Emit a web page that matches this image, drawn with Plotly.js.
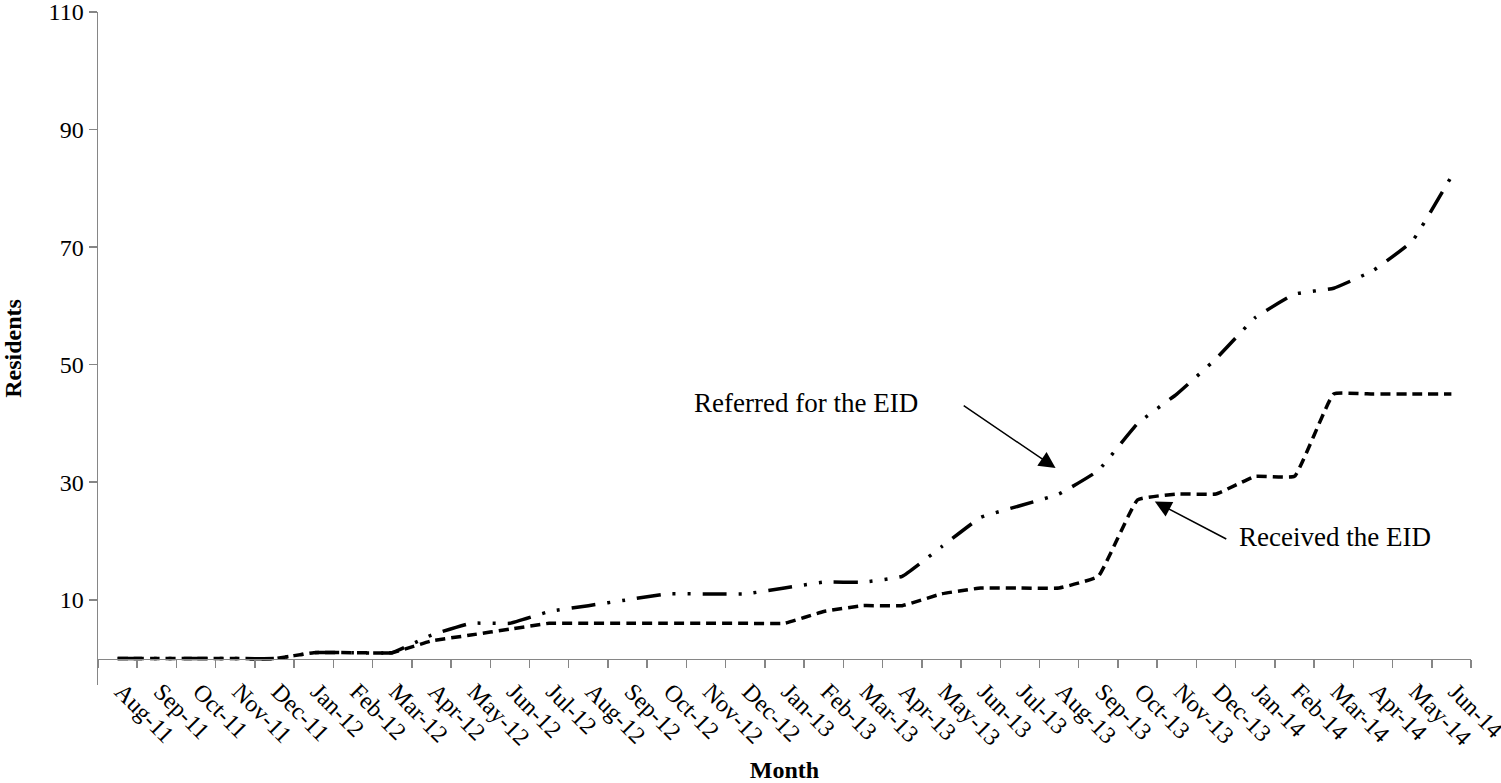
<!DOCTYPE html>
<html>
<head>
<meta charset="utf-8">
<script src="https://cdn.plot.ly/plotly-3.0.1.min.js"></script>
<style>html,body{margin:0;padding:0;background:#fff;}#chart{width:1501px;height:783px;}</style>
</head>
<body>
<div id="chart"></div>
<script>
const months = ["Aug-11","Sep-11","Oct-11","Nov-11","Dec-11","Jan-12","Feb-12","Mar-12","Apr-12","May-12","Jun-12","Jul-12","Aug-12","Sep-12","Oct-12","Nov-12","Dec-12","Jan-13","Feb-13","Mar-13","Apr-13","May-13","Jun-13","Jul-13","Aug-13","Sep-13","Oct-13","Nov-13","Dec-13","Jan-14","Feb-14","Mar-14","Apr-14","May-14","Jun-14"];
const referred = [0,0,0,0,0,1,1,1,4,6,6,8,9,10,11,11,11,12,13,13,14,19,24,26,28,32,40,45,51,58,62,63,66,71,82];
const received = [0,0,0,0,0,1,1,1,3,4,5,6,6,6,6,6,6,6,8,9,9,11,12,12,12,14,27,28,28,31,31,45,45,45,45];
const yTicks = [10,30,50,70,90,110];
const yMin = -4.5, yMax = 110;

const serif = "Liberation Serif, Times New Roman, serif";
const axisColor = "#868686";

const traces = [
  {x: months, y: referred, type: "scatter", mode: "lines", name: "Referred for the EID",
   line: {color: "#000", width: 3.5, dash: "24px,12px,3px,12px,3px,12px", shape: "spline", smoothing: 0.3}},
  {x: months, y: received, type: "scatter", mode: "lines", name: "Received the EID",
   line: {color: "#000", width: 3.5, dash: "10px,6px", shape: "spline", smoothing: 0.3}}
];

const layout = {
  width: 1501, height: 783,
  margin: {l: 98, r: 30, t: 12, b: 98},
  paper_bgcolor: "#fff", plot_bgcolor: "#fff",
  showlegend: false,
  font: {family: serif, color: "#000", size: 24},
  xaxis: {
    type: "category", range: [-0.5, months.length - 0.5],
    anchor: "free", position: (0 - yMin) / (yMax - yMin),
    showline: true, linecolor: axisColor, linewidth: 1.5,
    ticks: "outside", tickson: "boundaries", ticklen: 8, tickcolor: axisColor, tickwidth: 1.5,
    tickangle: 45, tickfont: {family: serif, size: 24, color: "#000"},
    ticklabelstandoff: 8, ticklabelshift: 4, ticklabeloverflow: "allow",
    showgrid: false, zeroline: false, automargin: false,
    title: {text: "<b>Month</b>", font: {family: serif, size: 24, color: "#000"}, standoff: 12}
  },
  yaxis: {
    range: [yMin, yMax], tickvals: yTicks, ticktext: yTicks.map(String),
    showline: true, linecolor: axisColor, linewidth: 1.5,
    ticks: "outside", ticklen: 8, tickcolor: axisColor, tickwidth: 1.5,
    tickfont: {family: serif, size: 24, color: "#000"}, ticklabeloverflow: "allow",
    showgrid: false, zeroline: false, automargin: false,
    title: {text: "<b>Residents</b>", font: {family: serif, size: 24, color: "#000"}, standoff: 29}
  },
  annotations: [
    {xref: "x", yref: "y", x: 17.55, y: 43.5, text: "Referred for the EID", showarrow: false,
     font: {family: serif, size: 27, color: "#000"}},
    {xref: "x", yref: "y", x: 31.03, y: 20.7, text: "Received the EID", showarrow: false,
     font: {family: serif, size: 27, color: "#000"}},
    {xref: "x", yref: "y", x: 23.91, y: 32.4, axref: "x", ayref: "y", ax: 21.53, ay: 43.2,
     text: "", showarrow: true, arrowhead: 2, arrowsize: 2.2, arrowwidth: 1.5, arrowcolor: "#000", standoff: 0},
    {xref: "x", yref: "y", x: 26.44, y: 26.7, axref: "x", ayref: "y", ax: 28.3, ay: 20.2,
     text: "", showarrow: true, arrowhead: 2, arrowsize: 2.2, arrowwidth: 1.5, arrowcolor: "#000", standoff: 0}
  ]
};

Plotly.newPlot("chart", traces, layout, {displayModeBar: false, staticPlot: true});
</script>
</body>
</html>
